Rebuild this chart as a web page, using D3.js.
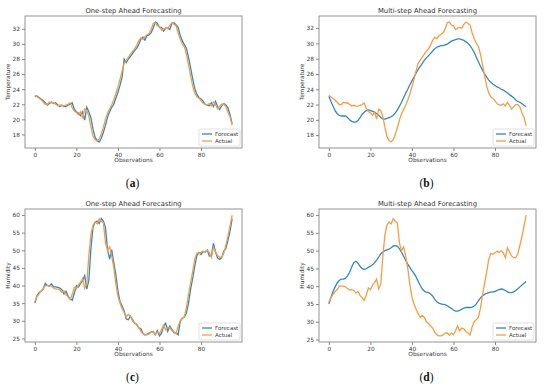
<!DOCTYPE html>
<html>
<head>
<meta charset="utf-8">
<script src="https://cdn.jsdelivr.net/npm/d3@7"></script>
<style>
  body { margin: 0; background: #fff; }
  svg text { font-family: "DejaVu Sans", sans-serif; }
</style>
</head>
<body>
<svg id="chart" width="550" height="385"></svg>
<script>
// observations 0..95
const tempActual = [23.2, 23.0, 22.8, 22.6, 22.3, 22.0, 22.0, 22.3, 22.2, 22.2, 22.0, 21.8, 21.9, 21.8, 21.8, 21.9, 22.0, 22.2, 21.5, 21.1,
  20.9, 20.6, 21.0, 20.1, 21.4, 21.2, 20.4, 19.0, 17.8, 17.3, 17.1, 17.4, 18.1, 19.0, 20.0, 20.8, 21.4, 21.9, 22.6, 23.4,
  24.3, 25.3, 26.4, 27.4, 27.8, 28.2, 28.6, 29.0, 29.3, 29.8, 30.4, 30.8, 30.6, 31.0, 31.2, 31.4, 31.9, 32.7, 32.8, 32.4,
  32.3, 31.8, 32.0, 32.1, 32.0, 32.5, 32.8, 32.6, 32.4, 31.4, 30.6, 30.0, 29.6, 28.6, 27.2, 25.8, 24.4, 23.5, 23.0, 22.8,
  22.5, 22.1, 22.0, 21.9, 22.1, 21.8, 22.3, 21.9, 21.4, 21.7, 22.0, 22.0, 21.7, 20.9, 20.3, 19.2]

const tempOneStep = [23.0, 23.1, 22.9, 22.7, 22.5, 22.2, 21.9, 22.1, 22.3, 22.1, 22.2, 21.9, 21.7, 21.9, 21.7, 21.7, 21.9, 22.0, 22.2, 21.3,
  21.0, 20.8, 20.5, 21.0, 19.9, 21.6, 21.0, 20.2, 18.7, 17.6, 17.2, 17.0, 17.5, 18.3, 19.2, 20.3, 21.0, 21.6, 22.0, 22.8,
  23.6, 24.5, 25.6, 28.0, 27.5, 28.0, 28.3, 28.7, 29.1, 29.4, 29.9, 30.6, 30.9, 30.5, 31.1, 31.2, 31.5, 32.1, 32.9, 32.7,
  32.2, 32.2, 31.7, 32.1, 32.1, 31.9, 32.7, 32.8, 32.5, 32.2, 31.1, 30.4, 29.9, 29.4, 28.2, 26.8, 25.4, 24.1, 23.3, 22.9,
  22.7, 22.4, 22.0, 21.9, 21.8, 22.2, 21.7, 22.4, 21.7, 21.3, 21.8, 22.1, 21.9, 21.5, 20.6, 19.4]

const tempMulti = [23.1, 22.4, 21.8, 21.2, 20.8, 20.6, 20.5, 20.5, 20.5, 20.3, 20.0, 19.8, 19.7, 19.7, 19.9, 20.3, 20.7, 21.0, 21.2, 21.3,
  21.2, 21.1, 21.0, 20.8, 20.6, 20.3, 20.1, 20.1, 20.2, 20.3, 20.4, 20.6, 20.9, 21.3, 21.8, 22.3, 22.9, 23.5, 24.0, 24.6,
  25.1, 25.6, 26.1, 26.6, 27.0, 27.4, 27.8, 28.1, 28.4, 28.7, 29.0, 29.3, 29.5, 29.6, 29.7, 29.7, 29.8, 29.9, 30.1, 30.3,
  30.4, 30.5, 30.6, 30.6, 30.5, 30.4, 30.2, 30.0, 29.7, 29.3, 28.8, 28.2, 27.6, 27.0, 26.5, 26.0, 25.6, 25.2, 24.9, 24.7,
  24.5, 24.3, 24.2, 24.0, 23.9, 23.7, 23.5, 23.3, 23.1, 22.9, 22.6, 22.4, 22.3, 22.1, 21.9, 21.7]

const humActual = [35.5, 36.8, 37.6, 38.5, 39.0, 40.0, 40.0, 40.0, 39.8, 39.3, 39.0, 39.0, 38.8, 38.1, 38.5, 37.4, 36.8, 36.0, 37.5, 39.5,
  39.0, 40.2, 41.0, 42.0, 39.2, 40.5, 48.5, 54.5, 57.2, 58.0, 57.5, 59.0, 58.2, 57.8, 52.0, 50.0, 51.0, 48.5, 45.0, 40.5,
  37.0, 35.0, 33.5, 32.3, 31.2, 31.8, 31.2, 30.0, 29.5, 28.8, 28.2, 27.0, 26.3, 26.0, 26.0, 26.3, 26.8, 26.9, 26.2, 26.8,
  26.4, 27.5, 28.8, 27.4, 28.2, 28.0, 27.2, 26.9, 26.3, 28.5, 30.0, 30.6, 31.2, 33.8, 37.5, 40.8, 44.0, 47.5, 49.2, 49.0,
  49.4, 49.8, 49.5, 50.0, 49.4, 48.0, 50.8, 49.6, 48.5, 48.0, 48.0, 49.2, 51.5, 54.0, 57.0, 60.0]

const humOneStep = [35.0, 37.0, 38.0, 38.4, 39.0, 40.6, 40.0, 39.8, 40.5, 39.6, 39.6, 39.5, 39.3, 38.8, 37.6, 38.4, 37.0, 36.3, 35.8, 37.8,
  40.0, 39.6, 40.6, 41.4, 42.8, 39.0, 41.5, 50.5, 56.5, 58.0, 58.3, 57.6, 59.0, 58.3, 56.5, 50.2, 47.5, 50.2, 46.5, 43.0,
  38.5, 35.5, 34.2, 32.8, 30.5, 30.3, 31.3, 30.4, 29.3, 29.0, 28.0, 27.8, 26.5, 26.0, 26.2, 26.5, 26.8, 27.0, 26.0, 27.2,
  25.7, 26.5, 28.5, 29.3, 27.0, 28.5, 27.6, 26.6, 26.6, 26.0, 29.8, 30.8, 31.0, 32.3, 35.0, 39.0, 42.0, 45.5, 48.5, 49.3,
  48.8, 49.6, 49.5, 50.1, 48.4, 48.5, 52.0, 49.5, 47.8, 47.4, 48.0, 49.8, 50.5, 52.8, 55.5, 59.0]

const humMulti = [35.0, 36.8, 38.5, 39.8, 40.9, 41.6, 42.0, 42.0, 42.2, 42.9, 43.9, 45.4, 46.6, 47.0, 46.5, 45.6, 45.0, 44.7, 44.9, 45.3,
  45.6, 46.0, 46.6, 47.3, 48.2, 49.1, 49.6, 50.0, 50.2, 50.4, 50.8, 51.3, 51.4, 51.2, 50.5, 49.6, 48.4, 47.2, 46.2, 45.3,
  44.4, 43.6, 42.6, 41.4, 40.2, 39.2, 38.6, 38.3, 38.2, 37.8, 37.2, 36.3, 35.6, 35.2, 35.0, 34.9, 34.8, 34.5, 34.1, 33.7,
  33.3, 33.0, 33.0, 33.2, 33.5, 33.8, 34.0, 34.0, 34.0, 34.1, 34.4, 35.0, 35.9, 36.7, 37.3, 37.7, 38.0, 38.2, 38.3, 38.4,
  38.5, 38.8, 39.0, 39.2, 39.1, 38.8, 38.4, 38.2, 38.2, 38.4, 38.8, 39.3, 39.8, 40.3, 40.8, 41.3]

const xTicks = [0, 20, 40, 60, 80]
const tempTicks = [18, 20, 22, 24, 26, 28, 30, 32]
const humTicks = [25, 30, 35, 40, 45, 50, 55, 60]
const seriesNames = ['Forecast', 'Actual']

const BLUE = '#3089c4'
const ORANGE = '#f69d42'

const svg = d3.select('#chart')

// one panel: frame box, axes, two lines, legend, caption
function drawPanel (p) {
  const g = svg.append('g')
  const n = p.actual.length
  const xScale = d3.scaleLinear()
    .domain([-(n - 1) * 0.05, (n - 1) * 1.05])
    .range([p.left, p.right])
  const ext = d3.extent(p.forecast.concat(p.actual))
  const pad = (ext[1] - ext[0]) * 0.05
  const yScale = d3.scaleLinear()
    .domain([ext[0] - pad, ext[1] + pad])
    .range([p.bottom, p.top])

  const xAxis = g.append('g')
    .attr('transform', `translate(0,${p.bottom})`)
    .call(d3.axisBottom(xScale).tickValues(xTicks).tickSize(3).tickPadding(2))
  const yAxis = g.append('g')
    .attr('transform', `translate(${p.left},0)`)
    .call(d3.axisLeft(yScale).tickValues(p.yTicks).tickSize(3).tickPadding(2))
  for (const ax of [xAxis, yAxis]) {
    ax.select('.domain').remove()
    ax.selectAll('line').attr('stroke', '#555').attr('stroke-width', 0.7)
    ax.selectAll('text').attr('font-size', 5.8).attr('fill', '#3a3a3a')
  }

  const line = d3.line()
    .x((d, i) => xScale(i))
    .y(d => yScale(d))

  g.append('path').datum(p.forecast)
    .attr('d', line).attr('fill', 'none')
    .attr('stroke', BLUE).attr('stroke-width', 1.3)
  g.append('path').datum(p.actual)
    .attr('d', line).attr('fill', 'none')
    .attr('stroke', ORANGE).attr('stroke-width', 1.3)

  g.append('rect')
    .attr('x', p.left).attr('y', p.top)
    .attr('width', p.right - p.left).attr('height', p.bottom - p.top)
    .attr('fill', 'none').attr('stroke', '#888').attr('stroke-width', 0.9)

  const midX = (p.left + p.right) / 2
  g.append('text')
    .attr('x', midX).attr('y', p.top - 3)
    .attr('text-anchor', 'middle').attr('font-size', 6.8).attr('fill', '#333')
    .text(p.title)
  g.append('text')
    .attr('x', midX).attr('y', p.bottom + 14)
    .attr('text-anchor', 'middle').attr('font-size', 5.8).attr('fill', '#3a3a3a')
    .text('Observations')
  g.append('text')
    .attr('transform', `translate(${p.left - 15},${(p.top + p.bottom) / 2}) rotate(-90)`)
    .attr('text-anchor', 'middle').attr('font-size', 5.8).attr('fill', '#3a3a3a')
    .text(p.yLabel)

  // legend, lower right
  const lw = 41, lh = 17
  const lx = p.right - lw - 2, ly = p.bottom - lh - 2
  const lg = g.append('g').attr('transform', `translate(${lx},${ly})`)
  lg.append('rect')
    .attr('width', lw).attr('height', lh).attr('rx', 1.5)
    .attr('fill', '#fff').attr('fill-opacity', 0.85)
    .attr('stroke', '#ccc').attr('stroke-width', 0.6)
  seriesNames.forEach((name, i) => {
    const yy = 5 + i * 7
    lg.append('line')
      .attr('x1', 3).attr('x2', 13).attr('y1', yy).attr('y2', yy)
      .attr('stroke', i === 0 ? BLUE : ORANGE).attr('stroke-width', 1.3)
    lg.append('text')
      .attr('x', 16).attr('y', yy + 2)
      .attr('font-size', 5.5).attr('fill', '#3a3a3a')
      .text(name)
  })

  const cap = g.append('text')
    .attr('x', midX - 1).attr('y', p.bottom + 39)
    .attr('text-anchor', 'middle')
    .attr('font-size', 11.5).attr('fill', '#111')
    .style('font-family', '"Liberation Serif", serif')
  cap.append('tspan').text('(')
  cap.append('tspan').attr('font-weight', 'bold').text(p.caption)
  cap.append('tspan').text(')')
}

drawPanel({ left: 25, right: 242, top: 16, bottom: 148, title: 'One-step Ahead Forecasting',
  yLabel: 'Temperature', yTicks: tempTicks, forecast: tempOneStep, actual: tempActual, caption: 'a' })
drawPanel({ left: 319, right: 536, top: 16, bottom: 148, title: 'Multi-step Ahead Forecasting',
  yLabel: 'Temperature', yTicks: tempTicks, forecast: tempMulti, actual: tempActual, caption: 'b' })
drawPanel({ left: 25, right: 242, top: 209, bottom: 342, title: 'One-step Ahead Forecasting',
  yLabel: 'Humidity', yTicks: humTicks, forecast: humOneStep, actual: humActual, caption: 'c' })
drawPanel({ left: 319, right: 536, top: 209, bottom: 342, title: 'Multi-step Ahead Forecasting',
  yLabel: 'Humidity', yTicks: humTicks, forecast: humMulti, actual: humActual, caption: 'd' })
</script>
</body>
</html>
